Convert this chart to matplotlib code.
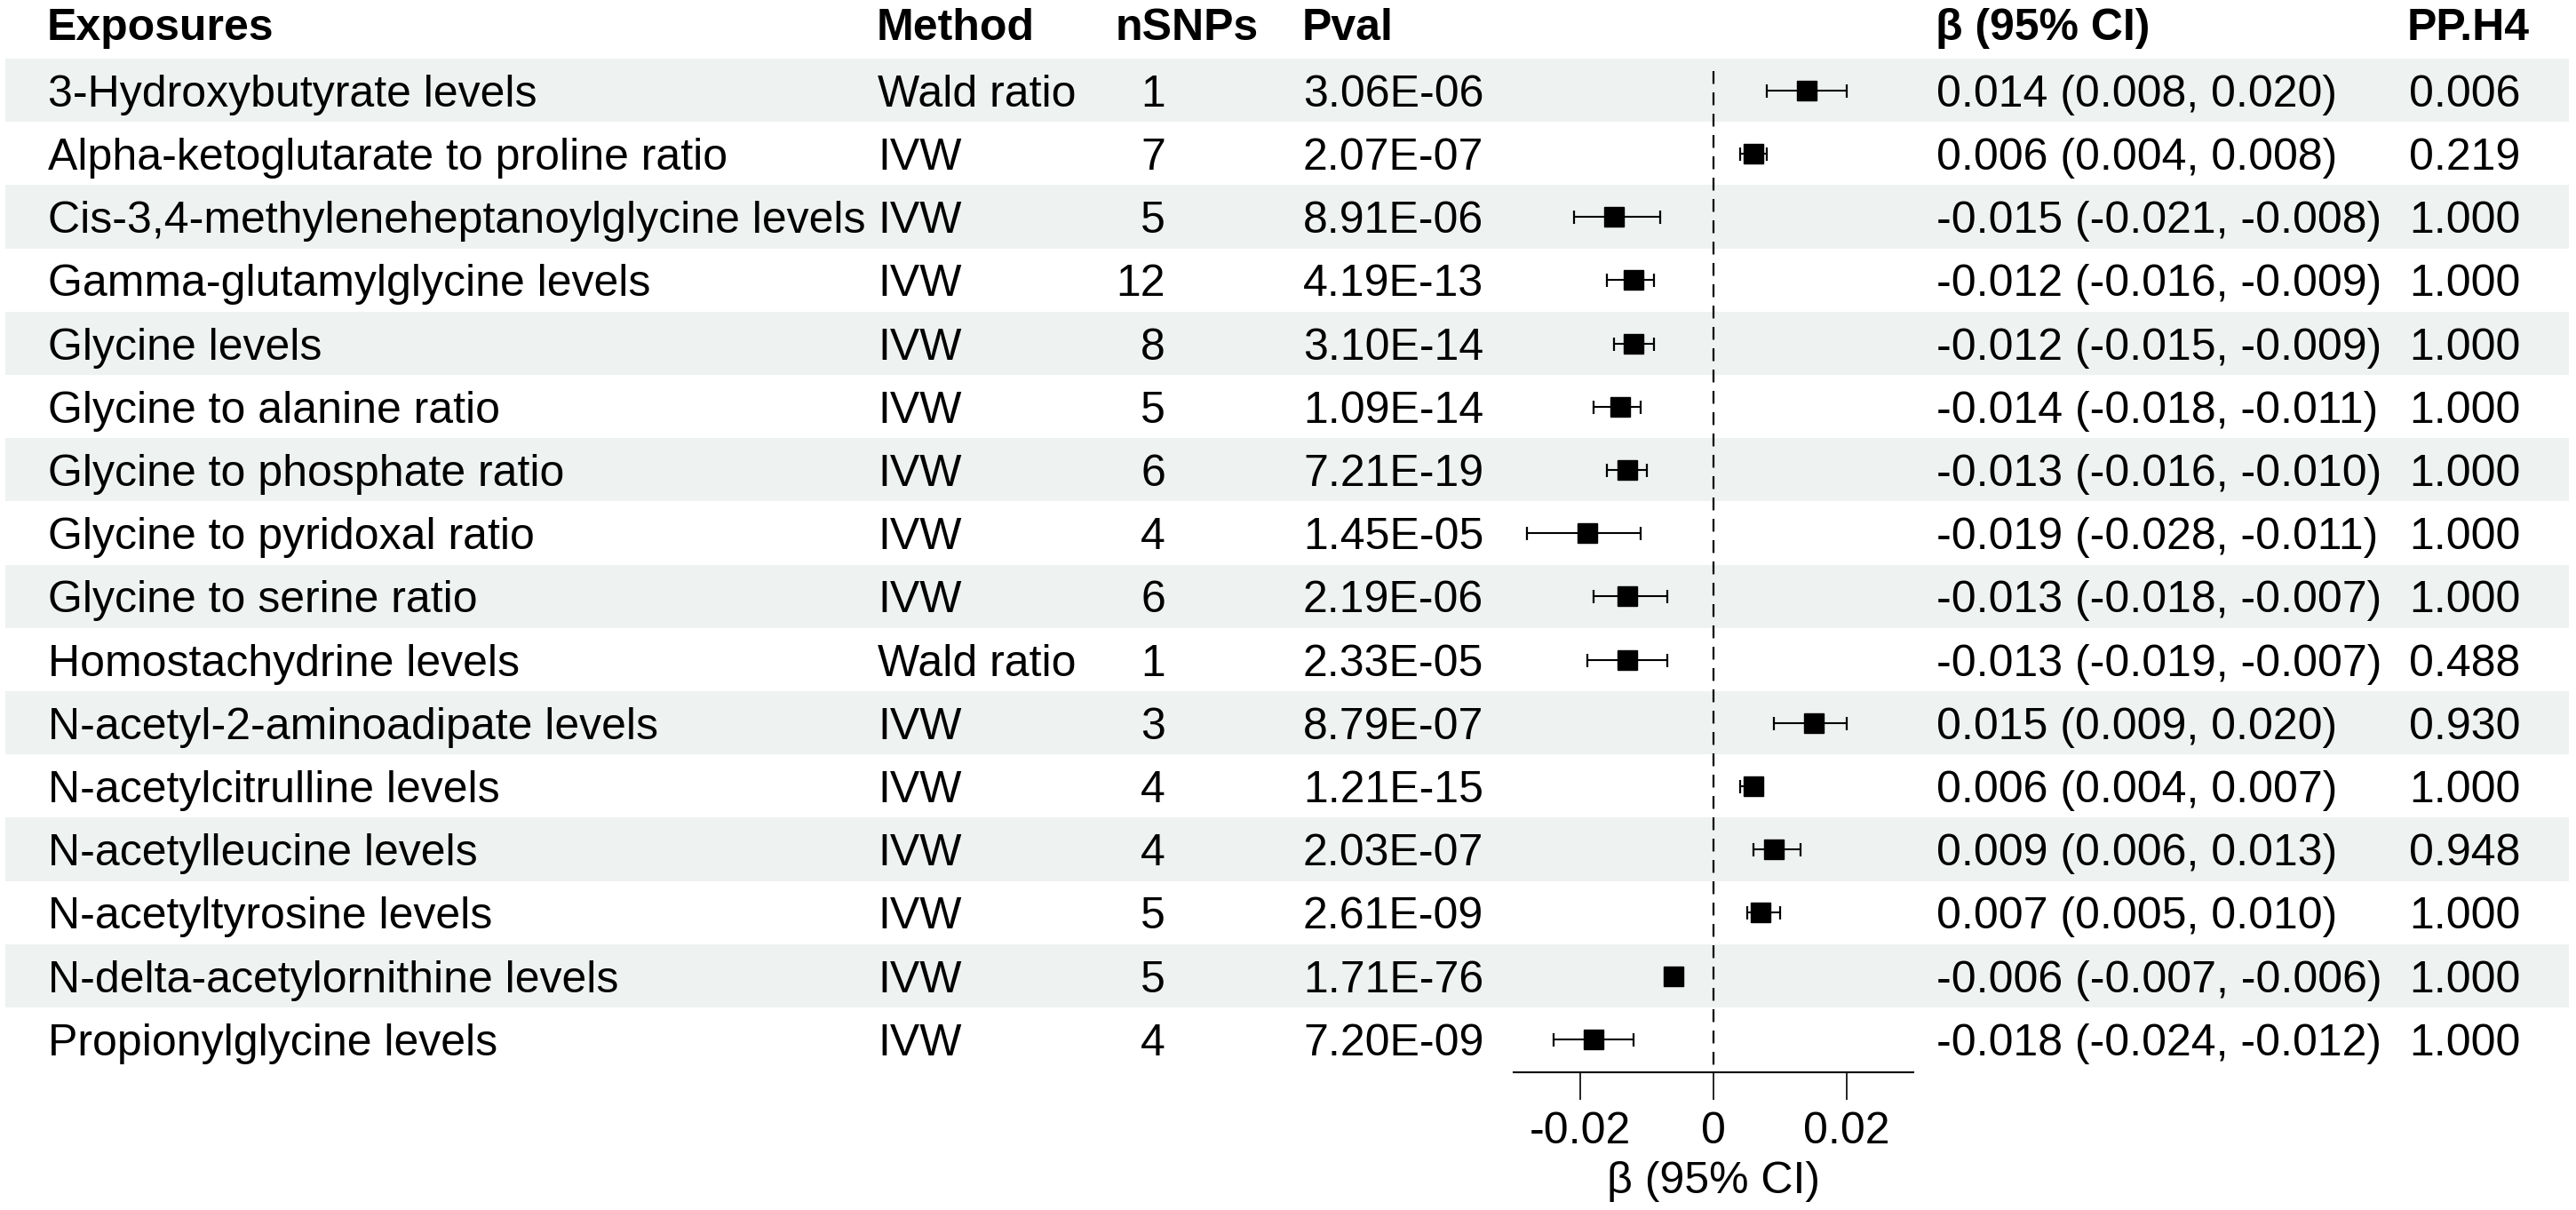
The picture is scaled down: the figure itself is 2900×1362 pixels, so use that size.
import matplotlib
matplotlib.use("Agg")
import matplotlib.pyplot as plt

plt.rcParams['font.family'] = ['Liberation Sans', 'DejaVu Sans']
plt.rcParams['axes.unicode_minus'] = False

exposures = [
    "3-Hydroxybutyrate levels",
    "Alpha-ketoglutarate to proline ratio",
    "Cis-3,4-methyleneheptanoylglycine levels",
    "Gamma-glutamylglycine levels",
    "Glycine levels",
    "Glycine to alanine ratio",
    "Glycine to phosphate ratio",
    "Glycine to pyridoxal ratio",
    "Glycine to serine ratio",
    "Homostachydrine levels",
    "N-acetyl-2-aminoadipate levels",
    "N-acetylcitrulline levels",
    "N-acetylleucine levels",
    "N-acetyltyrosine levels",
    "N-delta-acetylornithine levels",
    "Propionylglycine levels",
]
methods = ["Wald ratio", "IVW", "IVW", "IVW", "IVW", "IVW", "IVW", "IVW",
           "IVW", "Wald ratio", "IVW", "IVW", "IVW", "IVW", "IVW", "IVW"]
nsnps = [1, 7, 5, 12, 8, 5, 6, 4, 6, 1, 3, 4, 4, 5, 5, 4]
pvals = [3.06e-06, 2.07e-07, 8.91e-06, 4.19e-13, 3.10e-14, 1.09e-14, 7.21e-19,
         1.45e-05, 2.19e-06, 2.33e-05, 8.79e-07, 1.21e-15, 2.03e-07, 2.61e-09,
         1.71e-76, 7.20e-09]
beta = [0.014, 0.006, -0.015, -0.012, -0.012, -0.014, -0.013, -0.019,
        -0.013, -0.013, 0.015, 0.006, 0.009, 0.007, -0.006, -0.018]
ci_low = [0.008, 0.004, -0.021, -0.016, -0.015, -0.018, -0.016, -0.028,
          -0.018, -0.019, 0.009, 0.004, 0.006, 0.005, -0.007, -0.024]
ci_high = [0.020, 0.008, -0.008, -0.009, -0.009, -0.011, -0.010, -0.011,
           -0.007, -0.007, 0.020, 0.007, 0.013, 0.010, -0.006, -0.012]
pp_h4 = [0.006, 0.219, 1.000, 1.000, 1.000, 1.000, 1.000, 1.000,
         1.000, 0.488, 0.930, 1.000, 0.948, 1.000, 1.000, 1.000]

W, H = 2900, 1362
ROW0, ROWH = 101.7, 71.2   # pixel centre of first row, row height


def to_row(py):
    return (py - ROW0) / ROWH


fs = 36
band = '#eef2f0'

fig = plt.figure(figsize=(W / 100, H / 100), dpi=100)

# table layer: x in pixels, y in row units
tab = fig.add_axes([0, 0, 1, 1])
tab.set_xlim(0, W)
tab.set_ylim(to_row(H), to_row(0))
tab.axis('off')

n = len(exposures)
for i in range(n):
    if i % 2 == 0:
        tab.axhspan(i - 0.5, i + 0.5, xmin=6 / W, xmax=2892 / W, color=band, lw=0, zorder=0)

cap = 0.253  # baseline offset (half cap height) in rows
head_y = to_row(45)
headers = [("Exposures", 53, 'left'), ("Method", 987, 'left'), ("nSNPs", 1256, 'left'),
           ("Pval", 1466, 'left'), ("β (95% CI)", 2179, 'left'), ("PP.H4", 2710, 'left')]
for txt, x, ha in headers:
    tab.text(x, head_y, txt, fontsize=fs, fontweight='bold', ha=ha, va='baseline')

for i in range(n):
    y = i + cap
    tab.text(54, y, exposures[i], fontsize=fs, va='baseline')
    tab.text(988, y, methods[i], fontsize=fs, va='baseline')
    tab.text(1312, y, str(nsnps[i]), fontsize=fs, ha='right', va='baseline')
    tab.text(1467, y, f"{pvals[i]:.2E}", fontsize=fs, va='baseline')
    tab.text(2180, y, f"{beta[i]:.3f} ({ci_low[i]:.3f}, {ci_high[i]:.3f})", fontsize=fs, va='baseline')
    tab.text(2712, y, f"{pp_h4[i]:.3f}", fontsize=fs, va='baseline')

tab.text(1929, to_row(1343), "β (95% CI)", fontsize=fs, ha='center', va='baseline')

# forest panel
x0, x1 = 1704, 2154
ytop, ybot = 66, 1207
ax = fig.add_axes([x0 / W, (H - ybot) / H, (x1 - x0) / W, (ybot - ytop) / H])
ax.patch.set_alpha(0)
ax.set_xlim(-0.03, 0.03)
ax.set_ylim(to_row(ybot), to_row(ytop))
for s in ['top', 'left', 'right']:
    ax.spines[s].set_visible(False)
ax.spines['bottom'].set_linewidth(1.5)
ax.set_yticks([])
ax.set_xticks([-0.02, 0, 0.02])
ax.set_xticklabels(["-0.02", "0", "0.02"])
ax.tick_params(axis='x', length=22.3, width=1.2, pad=9.5, labelsize=fs)

ax.vlines(0, to_row(80), to_row(ybot), colors='k', lw=1.6, linestyles=(0, (6.5, 4.3)))

rows = list(range(n))
xerr = [[b - l for b, l in zip(beta, ci_low)], [h - b for b, h in zip(beta, ci_high)]]
ax.errorbar(beta, rows, xerr=xerr, fmt='none', ecolor='k', elinewidth=1.5,
            capsize=5.4, capthick=1.6, zorder=3)
ax.plot(beta, rows, 's', color='k', markersize=16.2, zorder=4)

fig.savefig("out.png", dpi=100)
